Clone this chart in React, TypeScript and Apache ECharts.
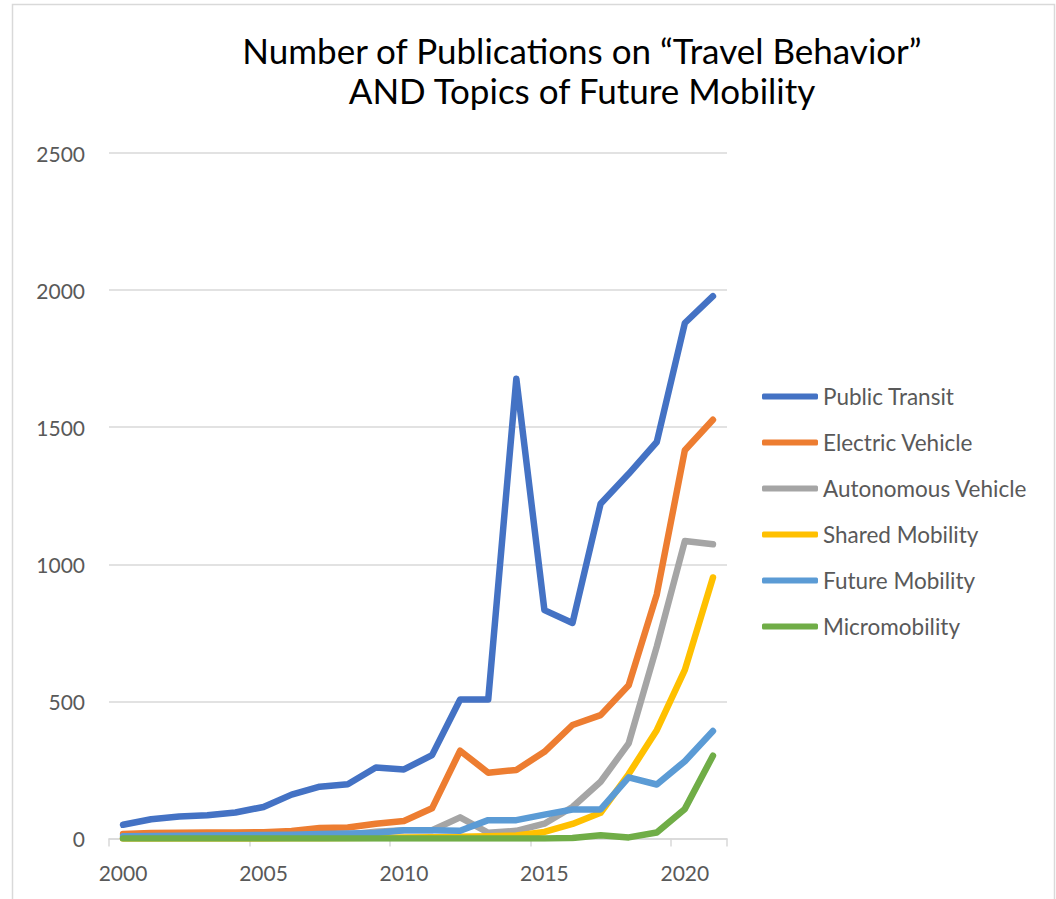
import React, { useEffect, useRef } from "react";
import * as echarts from "echarts";

// Publication counts per year, 2000–2021
const years = [
  "2000", "2001", "2002", "2003", "2004", "2005", "2006", "2007", "2008", "2009", "2010",
  "2011", "2012", "2013", "2014", "2015", "2016", "2017", "2018", "2019", "2020", "2021",
];

const publicTransit = [50, 70, 80, 85, 95, 115, 160, 189, 198, 259, 252, 304, 507, 507, 1677, 833, 786, 1221, 1330, 1446, 1880, 1978];
const electricVehicle = [16, 20, 21, 22, 22, 23, 27, 38, 40, 54, 64, 110, 320, 240, 250, 316, 414, 450, 559, 890, 1416, 1527];
const autonomousVehicle = [2, 2, 3, 3, 4, 5, 6, 8, 15, 25, 30, 30, 77, 21, 28, 54, 115, 207, 347, 700, 1085, 1073];
const sharedMobility = [0, 0, 0, 0, 0, 0, 1, 1, 2, 3, 4, 5, 6, 8, 11, 24, 53, 94, 235, 395, 615, 952];
const futureMobility = [8, 9, 10, 11, 12, 13, 14, 16, 18, 20, 30, 30, 28, 67, 67, 87, 106, 106, 223, 197, 282, 392];
const micromobility = [0, 0, 0, 0, 0, 0, 0, 0, 0, 0, 0, 0, 0, 0, 0, 0, 2, 12, 4, 22, 108, 302];

const seriesNames = [
  "Public Transit",
  "Electric Vehicle",
  "Autonomous Vehicle",
  "Shared Mobility",
  "Future Mobility",
  "Micromobility",
];
const seriesData = [publicTransit, electricVehicle, autonomousVehicle, sharedMobility, futureMobility, micromobility];
const seriesColors = ["#4472C4", "#ED7D31", "#A5A5A5", "#FFC000", "#5B9BD5", "#70AD47"];

const yTicks = { min: 0, max: 2500, interval: 500 };

const FONT = "Lato, 'Noto Sans', sans-serif";
const GRID_LINE = "#d9d9d9";
const LABEL = "#595959";

export default function App() {
  const ref = useRef<HTMLDivElement>(null);

  useEffect(() => {
    if (!ref.current) return;
    const chart = echarts.init(ref.current, undefined, { renderer: "svg" });

    chart.setOption({
      animation: false,
      backgroundColor: "#ffffff",
      textStyle: { fontFamily: FONT },
      title: {
        text: "Number of Publications on \u201CTravel Behavior\u201D\nAND Topics of Future Mobility",
        left: 582,
        textAlign: "center",
        top: 30,
        padding: 0,
        textStyle: {
          fontFamily: FONT,
          fontSize: 35,
          fontWeight: "normal",
          color: "#000000",
          lineHeight: 40,
        },
      },
      legend: {
        orient: "vertical",
        left: 762,
        top: 385,
        padding: 0,
        icon: "roundRect",
        itemWidth: 56,
        itemHeight: 6,
        itemGap: 23,
        textStyle: { fontFamily: FONT, fontSize: 22.5, color: LABEL, lineHeight: 22 },
        data: seriesNames,
      },
      grid: { left: 109, top: 153, width: 618, height: 685.5, containLabel: false },
      xAxis: {
        type: "category",
        data: years,
        boundaryGap: true,
        axisLine: { lineStyle: { color: GRID_LINE, width: 1.5 } },
        axisTick: { show: true, interval: 4, length: 8, lineStyle: { color: GRID_LINE, width: 1.5 } },
        axisLabel: { interval: 4, margin: 23, fontSize: 21, color: LABEL, fontFamily: FONT },
        splitLine: { show: false },
      },
      yAxis: {
        type: "value",
        min: yTicks.min,
        max: yTicks.max,
        interval: yTicks.interval,
        axisLine: { show: false },
        axisTick: { show: false },
        axisLabel: {
          margin: 24,
          fontSize: 21,
          color: LABEL,
          fontFamily: FONT,
          formatter: (v: number) => String(v),
        },
        splitLine: { lineStyle: { color: GRID_LINE, width: 1.5 } },
      },
      graphic: [
        {
          type: "rect",
          shape: { x: 12.5, y: 4.5, width: 1042, height: 1000 },
          style: { fill: "none", stroke: GRID_LINE, lineWidth: 1.5 },
          silent: true,
        },
      ],
      series: seriesNames.map((name, i) => ({
        name,
        type: "line",
        data: seriesData[i],
        symbol: "none",
        smooth: false,
        color: seriesColors[i],
        lineStyle: { color: seriesColors[i], width: 6.5, cap: "round", join: "round" },
        emphasis: { disabled: true },
      })),
    });

    return () => chart.dispose();
  }, []);

  return (
    <div
      ref={ref}
      style={{ position: "fixed", left: 0, top: 0, width: 1056, height: 899, background: "#fff" }}
    />
  );
}
